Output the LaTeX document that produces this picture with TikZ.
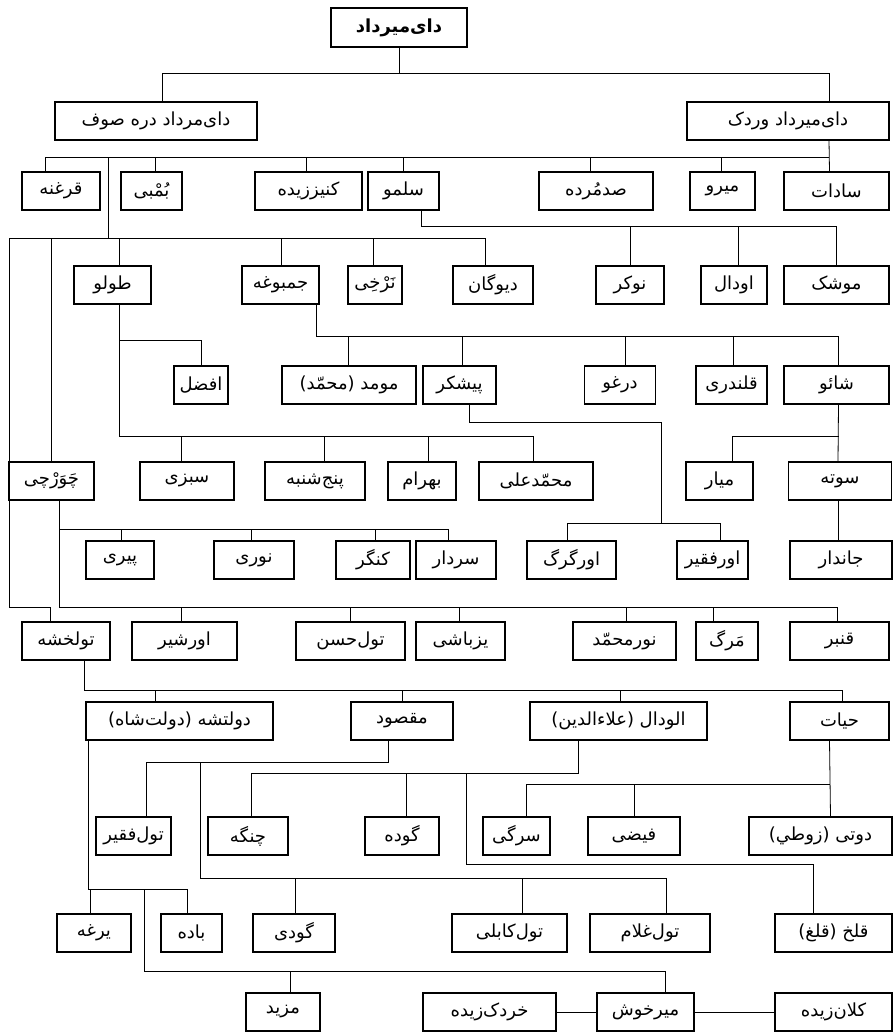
\documentclass[tikz,border=0pt]{standalone}
\usepackage{fontspec}
\newfontfamily\arabicfont[Script=Arabic]{DejaVu Sans}
\TeXXeTstate=1

\begin{document}
\begin{tikzpicture}[x=1pt,y=-1pt,
  person/.style={draw,line width=1.1pt,minimum height=38pt,inner sep=1pt,font=\arabicfont\fontsize{18}{21}\selectfont},
  link/.style={line width=0.8pt}]
\useasboundingbox (0,0) rectangle (894,1036);

\node[person,minimum width=136pt,minimum height=39pt,font=\arabicfont\bfseries\fontsize{18}{21}\selectfont] (top) at (399,27.5) {\beginR دای‌میرداد\endR};

\foreach \n/\x/\w/\txt in {deresuf/156/202/دای‌مرداد دره صوف,vardak/788/202/دای‌میرداد وردک}
  \node[person,minimum width=\w pt] (\n) at (\x,121) {\beginR\txt\endR};

\foreach \n/\x/\w/\txt in {qurghuna/61/78/قرغنه,bumbi/151.5/61/بُمْبی,kanizzida/308.5/107/کنیززیده,
  salmu/403.5/71/سلمو,sadmurda/596/114/صدمُرده,miru/722.5/65/میرو,sadat/836.5/105/سادات}
  \node[person,minimum width=\w pt] (\n) at (\x,191) {\beginR\txt\endR};

\foreach \n/\x/\w/\txt in {tulu/112.5/77/طولو,jambugha/280.5/77/جمبوغه,narkhi/375/54/نَرْخِی,
  devgan/493/80/دیوگان,nokar/630/68/نوکر,awdal/734/66/اودال,mushk/836.5/105/موشک}
  \node[person,minimum width=\w pt] (\n) at (\x,285) {\beginR\txt\endR};

\foreach \n/\x/\w/\txt in {afzal/201/54/افضل,momad/349/134/مومد (محمّد),peshkar/459.5/73/پیشکر,
  dargho/620/71/درغو,qalandari/731.5/71/قلندری,shaiu/836.5/105/شائو}
  \node[person,minimum width=\w pt] (\n) at (\x,385) {\beginR\txt\endR};

\foreach \n/\x/\w/\txt in {chowarchi/51.5/85/چَوَرْچی,sabzi/187/94/سبزی,panjshanba/315/100/پنج‌شنبه,
  bahram/422/68/بهرام,mamadali/536/114/محمّدعلی,mayar/719.5/67/میار,sota/840/103/سوته}
  \node[person,minimum width=\w pt] (\n) at (\x,481) {\beginR\txt\endR};

\foreach \n/\x/\w/\txt in {peri/120/68/پیری,nuri/254/80/نوری,kangar/373/74/کنگر,sardar/456/80/سردار,
  urgurg/571.5/89/اورگرگ,urfaqir/712.5/71/اورفقیر,jandar/841/102/جاندار}
  \node[person,minimum width=\w pt] (\n) at (\x,560) {\beginR\txt\endR};

\foreach \n/\x/\w/\txt in {tulkhasha/66/88/تولخشه,urshir/184.5/105/اورشیر,tulhasan/350.5/109/تول‌حسن,
  yuzbashi/460.5/89/یزباشی,nurmamad/624.5/103/نورمحمّد,marg/727/62/مَرگ,qambar/839.5/99/قنبر}
  \node[person,minimum width=\w pt] (\n) at (\x,641) {\beginR\txt\endR};

\foreach \n/\x/\w/\txt in {dawlatsha/179.5/187/دولتشه (دولت‌شاه),maqsud/402/102/مقصود,
  aludal/618.5/177/الودال (علاءالدین),hayat/839.5/99/حیات}
  \node[person,minimum width=\w pt] (\n) at (\x,721) {\beginR\txt\endR};

\foreach \n/\x/\w/\txt in {tulfaqir/133.5/75/تول‌فقیر,changa/248/80/چنگه,guda/402/74/گوده,
  sargi/516.5/67/سرگی,fayzi/634/92/فیضی,doti/820.5/143/دوتی (زوطي)}
  \node[person,minimum width=\w pt] (\n) at (\x,836) {\beginR\txt\endR};

\foreach \n/\x/\w/\txt in {yargha/94/74/یرغه,bada/191.5/61/باده,gudi/294/82/گودی,
  tulkabuli/509.5/115/تول‌کابلی,tulghulam/650/120/تول‌غلام,qulukh/833.5/117/قلخ (قلغ)}
  \node[person,minimum width=\w pt] (\n) at (\x,933) {\beginR\txt\endR};

\foreach \n/\x/\w/\txt in {mazid/283/74/مزید,khurdakzida/489.5/133/خردک‌زیده,
  mirkhosh/645.5/97/میرخوش,kalanzida/833.5/117/کلان‌زیده}
  \node[person,minimum width=\w pt] (\n) at (\x,1012) {\beginR\txt\endR};

\foreach \b/\y in {b0/73,b1/157,b2/226,b3/238,ba/340,b4/336,b5/422,b6/436,b7/523,b7b/529,
  b8/607,b9/690,b10a/762,b10b/773,b10c/784,b11a/864,b11b/878,b11c/889,b12/971}
  \coordinate (\b) at (0,\y);
\coordinate (j1) at (108,157);
\coordinate (j2) at (108,238);
\coordinate (lft) at (9,0);
\coordinate (pk) at (661,0);
\coordinate (mq) at (200,0);
\coordinate (al) at (466,0);
\coordinate (dw) at (144,0);

\draw[link] (top.south) -- (top.south |- b0);
\draw[link] ([xshift=6pt]deresuf.north) |- ([xshift=41pt]vardak.north |- b0) -- ([xshift=41pt]vardak.north);

\draw[link] ([xshift=41pt]vardak.south) -- ([xshift=-7pt]sadat.north);
\draw[link] ([xshift=41pt]vardak.south |- b1) -| ([xshift=-16pt]qurghuna.north);
\foreach \c/\s in {bumbi/4,kanizzida/-2,salmu/0,sadmurda/-6,miru/-1}
  \draw[link] ([xshift=\s pt]\c.north) -- ([xshift=\s pt]\c.north |- b1);
\draw[link] (j1) -- (j2);

\draw[link] ([xshift=18pt]salmu.south) |- (mushk.north |- b2) -- (mushk.north);
\foreach \c/\s in {nokar/0,awdal/4}
  \draw[link] ([xshift=\s pt]\c.north) -- ([xshift=\s pt]\c.north |- b2);

\draw[link] ([xshift=-8pt]devgan.north) |- (lft |- b3) |- ([xshift=-16pt]tulkhasha.north |- b8) -- ([xshift=-16pt]tulkhasha.north);
\foreach \c/\s in {chowarchi/0,tulu/7,jambugha/1,narkhi/-2}
  \draw[link] ([xshift=\s pt]\c.north) -- ([xshift=\s pt]\c.north |- b3);

\draw[link] ([xshift=7pt]tulu.south) |- ([xshift=-3pt]mamadali.north |- b6) -- ([xshift=-3pt]mamadali.north);
\draw[link] ([xshift=7pt]tulu.south |- ba) -| (afzal.north);
\foreach \c/\s in {sabzi/-6,panjshanba/9,bahram/6}
  \draw[link] ([xshift=\s pt]\c.north) -- ([xshift=\s pt]\c.north |- b6);

\draw[link] ([xshift=36pt]jambugha.south) |- ([xshift=2pt]shaiu.north |- b4) -- ([xshift=2pt]shaiu.north);
\foreach \c/\s in {momad/-1,peshkar/3,dargho/5,qalandari/2}
  \draw[link] ([xshift=\s pt]\c.north) -- ([xshift=\s pt]\c.north |- b4);

\draw[link] ([xshift=10pt]peshkar.south) |- (pk |- b5) -- (pk |- b7);
\draw[link] ([xshift=-4pt]urgurg.north) |- ([xshift=8pt]urfaqir.north |- b7) -- ([xshift=8pt]urfaqir.north);

\draw[link] ([xshift=2pt]shaiu.south) -- ([xshift=-2pt]sota.north);
\draw[link] ([xshift=2pt]shaiu.south |- b6) -| ([xshift=13pt]mayar.north);
\draw[link] ([xshift=-2pt]sota.south) -- ([xshift=-3pt]jandar.north);

\draw[link] ([xshift=8pt]chowarchi.south) |- ([xshift=-2pt]qambar.north |- b8) -- ([xshift=-2pt]qambar.north);
\draw[link] ([xshift=8pt]chowarchi.south |- b7b) -| ([xshift=-8pt]sardar.north);
\foreach \c/\s in {peri/1,nuri/-3,kangar/2}
  \draw[link] ([xshift=\s pt]\c.north) -- ([xshift=\s pt]\c.north |- b7b);
\foreach \c/\s in {urshir/-3,tulhasan/0,yuzbashi/-1,nurmamad/2,marg/-14}
  \draw[link] ([xshift=\s pt]\c.north) -- ([xshift=\s pt]\c.north |- b8);

\draw[link] ([xshift=18pt]tulkhasha.south) |- ([xshift=3pt]hayat.north |- b9) -- ([xshift=3pt]hayat.north);
\foreach \c/\s in {dawlatsha/-24,maqsud/0,aludal/2}
  \draw[link] ([xshift=\s pt]\c.north) -- ([xshift=\s pt]\c.north |- b9);

\draw[link] ([xshift=-14pt]maqsud.south) |- ([xshift=13pt]tulfaqir.north |- b10a) -- ([xshift=13pt]tulfaqir.north);
\draw[link] (mq |- b10a) |- ([xshift=16pt]tulghulam.north |- b11b) -- ([xshift=16pt]tulghulam.north);
\foreach \c/\s in {gudi/1,tulkabuli/13}
  \draw[link] ([xshift=\s pt]\c.north) -- ([xshift=\s pt]\c.north |- b11b);

\draw[link] ([xshift=-40pt]aludal.south) |- ([xshift=3pt]changa.north |- b10b) -- ([xshift=3pt]changa.north);
\draw[link] ([xshift=4pt]guda.north) -- ([xshift=4pt]guda.north |- b10b);
\draw[link] (al |- b10b) |- ([xshift=-20pt]qulukh.north |- b11a) -- ([xshift=-20pt]qulukh.north);

\draw[link] ([xshift=-10pt]hayat.south) -- ([xshift=10pt]doti.north);
\draw[link] ([xshift=-10pt]hayat.south |- b10c) -| ([xshift=10pt]sargi.north);
\draw[link] (fayzi.north) -- (fayzi.north |- b10c);

\draw[link] ([xshift=-91pt]dawlatsha.south) |- ([xshift=-4pt]bada.north |- b11c) -- ([xshift=-4pt]bada.north);
\draw[link] ([xshift=-4pt]yargha.north) -- ([xshift=-4pt]yargha.north |- b11c);
\draw[link] (dw |- b11c) |- ([xshift=20pt]mirkhosh.north |- b12) -- ([xshift=20pt]mirkhosh.north);
\draw[link] ([xshift=7pt]mazid.north) -- ([xshift=7pt]mazid.north |- b12);
\draw[link] (khurdakzida.east) -- (mirkhosh.west);
\draw[link] (mirkhosh.east) -- (kalanzida.west);
\end{tikzpicture}
\end{document}
